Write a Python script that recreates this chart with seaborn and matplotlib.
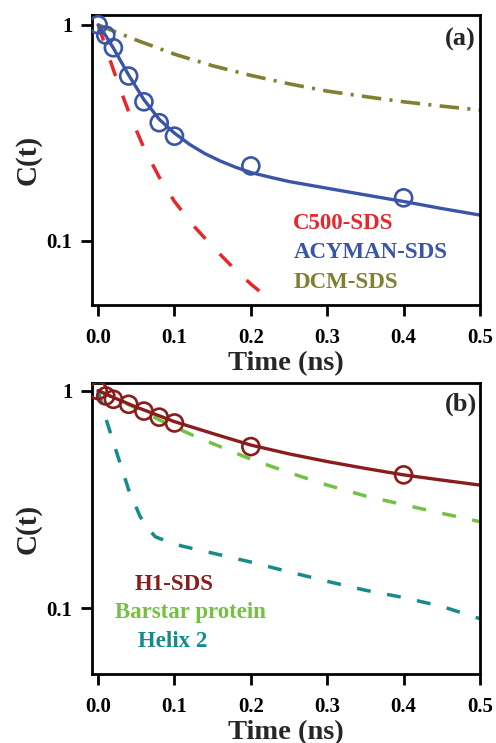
import matplotlib
matplotlib.use("Agg")
import matplotlib.pyplot as plt
import seaborn as sns
import pandas as pd

# ---- panel (a): solvation dynamics in SDS micelles ----
t_obs = [0, 0.01, 0.02, 0.04, 0.06, 0.08, 0.1, 0.2, 0.4]
acyman_obs = [1.0, 0.896, 0.783, 0.579, 0.44, 0.352, 0.305, 0.222, 0.158]

acyman_fit_t = [0, 0.01, 0.02, 0.04, 0.06, 0.08, 0.1, 0.12, 0.14, 0.16,
                0.18, 0.2, 0.225, 0.25, 0.3, 0.35, 0.4, 0.45, 0.5]
acyman_fit = [1.0, 0.89, 0.78, 0.585, 0.45, 0.365, 0.315, 0.279, 0.253, 0.234,
              0.219, 0.207, 0.197, 0.188, 0.175, 0.163, 0.152, 0.141, 0.1315]

c500_t = [0, 0.01, 0.02, 0.03, 0.04, 0.05, 0.06, 0.08, 0.1, 0.125, 0.15,
          0.175, 0.2, 0.226]
c500 = [1.0, 0.787, 0.619, 0.492, 0.396, 0.325, 0.269, 0.197, 0.152, 0.1173,
        0.0938, 0.0762, 0.063, 0.053]

dcm_t = [0, 0.025, 0.05, 0.1, 0.15, 0.2, 0.25, 0.3, 0.35, 0.4, 0.45, 0.5]
dcm = [1.0, 0.92, 0.85, 0.731, 0.646, 0.583, 0.533, 0.493, 0.465, 0.44,
       0.42, 0.403]

# ---- panel (b): protein hydration ----
h1_obs = [1.0, 0.945, 0.912, 0.865, 0.805, 0.755, 0.71, 0.553, 0.41]

h1_fit_t = [0, 0.02, 0.05, 0.1, 0.15, 0.2, 0.25, 0.3, 0.35, 0.4, 0.45, 0.5]
h1_fit = [1.0, 0.93, 0.84, 0.72, 0.635, 0.562, 0.512, 0.472, 0.439, 0.41,
          0.388, 0.368]

barstar_t = [0, 0.05, 0.09, 0.13, 0.2, 0.25, 0.3, 0.35, 0.4, 0.45, 0.5]
barstar = [1.0, 0.83, 0.705, 0.61, 0.484, 0.42, 0.368, 0.328, 0.299, 0.273,
           0.25]

helix_t = [0, 0.012, 0.025, 0.04, 0.055, 0.065, 0.075, 0.09, 0.11, 0.133,
           0.2, 0.25, 0.3, 0.35, 0.4, 0.45, 0.5]
helix = [1.0, 0.71, 0.51, 0.35, 0.264, 0.233, 0.213, 0.203, 0.193, 0.185,
         0.163, 0.147, 0.133, 0.121, 0.112, 0.102, 0.0895]

x_ticks = [0.0, 0.1, 0.2, 0.3, 0.4, 0.5]
x_tick_labels = ["0.0", "0.1", "0.2", "0.3", "0.4", "0.5"]
y_ticks = [0.1, 1]
y_tick_labels = ["0.1", "1"]

labels_a = ["C500-SDS", "ACYMAN-SDS", "DCM-SDS"]
labels_b = ["H1-SDS", "Barstar protein", "Helix 2"]

RED = "#e8262b"
BLUE = "#3a55a7"
OLIVE = "#808030"
MAROON = "#8b1c1c"
GREEN = "#74c043"
TEAL = "#178a8a"

sns.set_style("ticks")
plt.rcParams["font.family"] = ["Liberation Serif", "DejaVu Serif"]
plt.rcParams["font.weight"] = "bold"
plt.rcParams["lines.scale_dashes"] = False
plt.rcParams["axes.linewidth"] = 2.0

fig = plt.figure(figsize=(4.96, 7.43), dpi=100)
ax_a = fig.add_axes([0.1855, 0.5895, 0.7822, 0.3903])
ax_b = fig.add_axes([0.1855, 0.0929, 0.7822, 0.3912])


def curve(ax, t, v, color, ls, lw):
    df = pd.DataFrame({"t": t, "C": v})
    sns.lineplot(data=df, x="t", y="C", ax=ax, color=color, lw=lw,
                 linestyle=ls, estimator=None, sort=False, zorder=2)


def points(ax, t, v, color):
    df = pd.DataFrame({"t": t, "C": v})
    sns.scatterplot(data=df, x="t", y="C", ax=ax, marker="o", s=150,
                    facecolors="none", edgecolors=color, linewidth=1.9,
                    zorder=3)


# panel (a)
curve(ax_a, dcm_t, dcm, OLIVE, (0, (14, 6, 2.2, 6)), 2.6)
curve(ax_a, c500_t, c500, RED, (0, (12, 15)), 2.5)
curve(ax_a, acyman_fit_t, acyman_fit, BLUE, "-", 2.4)
points(ax_a, t_obs, acyman_obs, BLUE)

# panel (b)
curve(ax_b, helix_t, helix, TEAL, (0, (10, 12)), 2.5)
curve(ax_b, barstar_t, barstar, GREEN, (0, (10, 12)), 2.5)
curve(ax_b, h1_fit_t, h1_fit, MAROON, "-", 2.4)
points(ax_b, t_obs, h1_obs, MAROON)

for ax in (ax_a, ax_b):
    ax.set_yscale("log")
    ax.set_xlim(-0.008, 0.5)
    ax.set_ylim(0.0504, 1.11)
    ax.set_xticks(x_ticks)
    ax.set_xticklabels(x_tick_labels)
    ax.set_yticks(y_ticks)
    ax.set_yticklabels(y_tick_labels)
    ax.yaxis.set_minor_locator(matplotlib.ticker.NullLocator())
    ax.tick_params(axis="both", which="major", direction="out", length=8,
                   width=2, labelsize=15, colors="black")
    ax.tick_params(axis="x", pad=8.5)
    ax.tick_params(axis="y", pad=6)
    for lab in ax.get_xticklabels() + ax.get_yticklabels():
        lab.set_fontweight("bold")
    for s in ax.spines.values():
        s.set_visible(True)
        s.set_linewidth(2.0)
        s.set_color("black")
    ax.set_xlabel("Time (ns)", fontsize=20.5, fontweight="bold", labelpad=2.4)
    ax.set_ylabel("C(t)", fontsize=21, fontweight="bold", labelpad=4)

ax_b.set_ylim(0.0499, 1.08)

ax_a.text(0.95, 0.914, "(a)", transform=ax_a.transAxes, fontsize=19,
          fontweight="bold", ha="center", va="center")
ax_b.text(0.95, 0.929, "(b)", transform=ax_b.transAxes, fontsize=19,
          fontweight="bold", ha="center", va="center")

for txt, col, y in zip(labels_a, [RED, BLUE, OLIVE], [0.262, 0.161, 0.0576]):
    ax_a.text(0.519, y, txt, transform=ax_a.transAxes, color=col,
              fontsize=16.5, fontweight="bold", ha="left", va="baseline")

for txt, col, x, y in zip(labels_b, [MAROON, GREEN, TEAL],
                          [0.1108, 0.0593, 0.1193], [0.289, 0.1937, 0.0939]):
    ax_b.text(x, y, txt, transform=ax_b.transAxes, color=col,
              fontsize=16.5, fontweight="bold", ha="left", va="baseline")

fig.savefig("out.png", dpi=100)
